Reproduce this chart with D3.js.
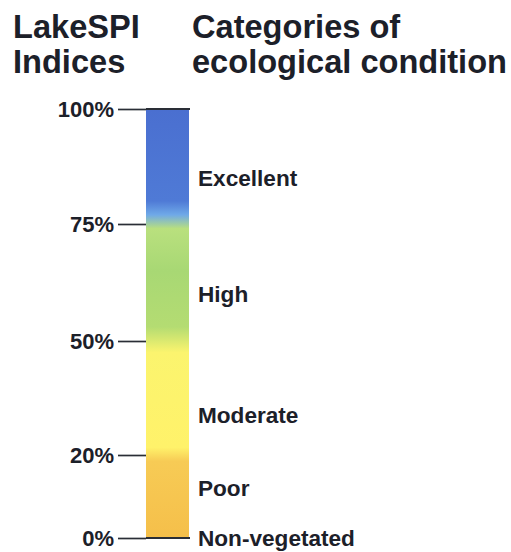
<!DOCTYPE html>
<html>
<head>
<meta charset="utf-8">
<script src="https://cdn.jsdelivr.net/npm/d3@7"></script>
<style>
  body{margin:0;background:#fff;}
  svg{display:block;font-family:"Liberation Sans",Arial,sans-serif;}
</style>
</head>
<body>
<script>
// index break points shown on the axis (%)
const TICKS=[0,20,50,75,100];
// category names and the index value each label sits at
const CATEGORIES=["Excellent","High","Moderate","Poor","Non-vegetated"];
const CATEGORY_AT=[85,60,30.5,12,0];
// colour ramp along the index (%)
const STOP_VALUES=[100,80,77,74,65,53,47,22,18.5,0];
const STOP_COLORS=["#4a6fd0","#4f7ad6","#6fa9e8","#b9e07e","#a8d874","#b4dc72","#fbf46e","#fff26a","#f7cb55","#f5bf4a"];

const w=511, h=552;
const ink="#1c2029";
const barLeft=146, barRight=189;

const svg=d3.select("body").append("svg").attr("width",w).attr("height",h);

// headings
const heads=[
  {x:13,lines:["LakeSPI","Indices"]},
  {x:192,lines:["Categories of","ecological condition"]}
];
heads.forEach(hd=>{
  hd.lines.forEach((t,i)=>{
    svg.append("text")
      .attr("x",hd.x)
      .attr("y",38+i*35)
      .attr("fill",ink)
      .style("font-size","32.6px")
      .style("font-weight","bold")
      .text(t);
  });
});

// the index axis is not uniform: each band gets its own share of height
const yScale=d3.scaleLinear().domain(TICKS).range([538,455,341,224,109]);

// gradient bar
const defs=svg.append("defs");
const grad=defs.append("linearGradient")
  .attr("id","spi")
  .attr("gradientUnits","userSpaceOnUse")
  .attr("x1",0).attr("x2",0)
  .attr("y1",yScale(100)).attr("y2",yScale(0));
grad.selectAll("stop")
  .data(STOP_VALUES)
  .enter()
  .append("stop")
  .attr("offset",d=>(yScale(d)-yScale(100))/(yScale(0)-yScale(100)))
  .attr("stop-color",(d,i)=>STOP_COLORS[i]);

svg.append("rect")
  .attr("x",barLeft)
  .attr("y",yScale(100))
  .attr("width",barRight-barLeft)
  .attr("height",yScale(0)-yScale(100))
  .attr("fill","url(#spi)");

// axis
const yAxis=d3.axisLeft(yScale)
  .tickValues(TICKS)
  .tickSize(28)
  .tickPadding(4)
  .tickFormat(d=>d+"%");
const ax=svg.append("g")
  .attr("transform",`translate(${barLeft},0)`)
  .call(yAxis);
ax.select(".domain").remove();
ax.selectAll(".tick line").attr("stroke","#2a2e36").attr("stroke-width",1.7);
ax.selectAll(".tick text")
  .attr("fill",ink)
  .style("font-size","22px")
  .style("font-weight","bold")
  .style("font-family","'Liberation Sans',Arial,sans-serif");

// top and bottom lines run across the bar
[0,100].forEach(v=>{
  svg.append("line")
    .attr("x1",barLeft).attr("x2",barRight+1)
    .attr("y1",yScale(v)).attr("y2",yScale(v))
    .attr("stroke","#2a2e36").attr("stroke-width",1.8);
});

// category labels
svg.selectAll("text.cat")
  .data(CATEGORIES)
  .enter()
  .append("text")
  .attr("class","cat")
  .attr("x",198)
  .attr("y",(d,i)=>yScale(CATEGORY_AT[i]))
  .attr("dy","0.35em")
  .attr("fill",ink)
  .style("font-size","22.6px")
  .style("font-weight","bold")
  .text(d=>d);
</script>
</body>
</html>
